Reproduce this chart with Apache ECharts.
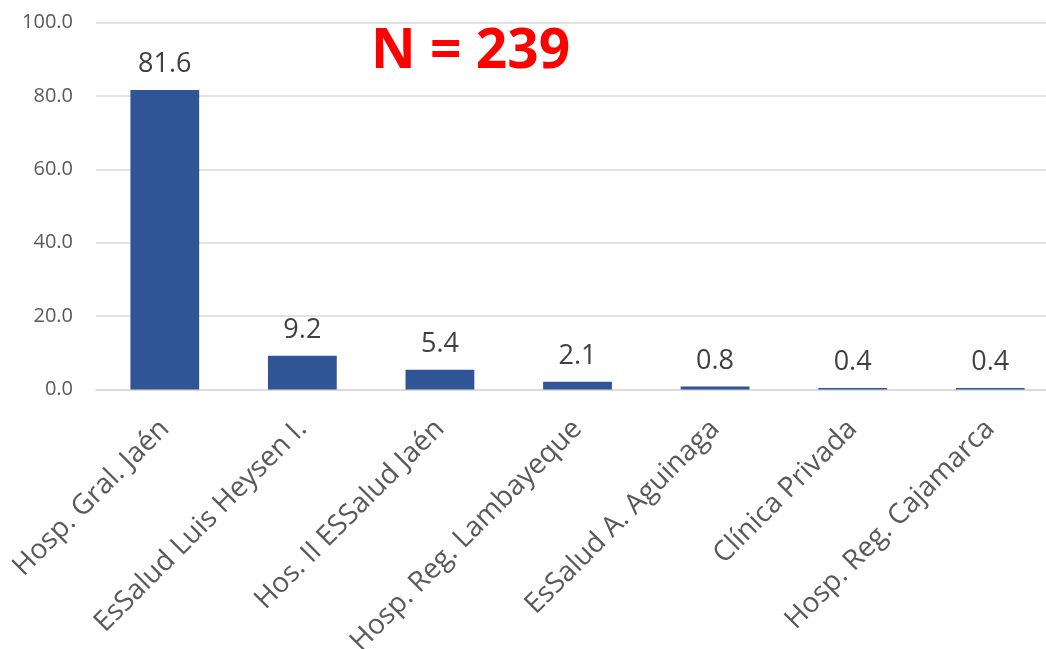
<!DOCTYPE html>
<html><head><meta charset="utf-8">
<script src="https://cdn.jsdelivr.net/npm/echarts@6/dist/echarts.min.js"></script>
<style>html,body{margin:0;padding:0;background:#fff;overflow:hidden;width:1046px;height:649px}#c{width:1060px;height:649px}</style>
</head><body><div id="c"></div>
<script>
const categories = ["Hosp. Gral. Jaén","EsSalud Luis Heysen I.","Hos. II ESSalud Jaén","Hosp. Reg. Lambayeque","EsSalud A. Aguinaga","Clínica Privada","Hosp. Reg. Cajamarca"];
const values = [81.6, 9.2, 5.4, 2.1, 0.8, 0.4, 0.4];
const yTicks = {min: 0, max: 100, interval: 20};
const annotation = "N = 239";

const chart = echarts.init(document.getElementById('c'), null, {renderer: 'canvas'});
chart.setOption({
  animation: false,
  backgroundColor: '#ffffff',
  title: {
    text: annotation, left: 366, top: 20,
    textStyle: {color: '#FF0000', fontSize: 55, fontWeight: 'bold', fontFamily: 'Open Sans'}
  },
  grid: {left: 96, top: 22.5, width: 963, bottom: 259.5, containLabel: false, outerBoundsMode: 'none'},
  xAxis: {
    type: 'category', data: categories,
    axisLine: {show: true, lineStyle: {color: '#D9D9D9', width: 1.5}},
    axisTick: {show: false},
    axisLabel: {rotate: 45, interval: 0, margin: 35, color: '#595959', fontSize: 28, fontFamily: 'Open Sans'}
  },
  yAxis: {
    type: 'value', min: yTicks.min, max: yTicks.max, interval: yTicks.interval,
    axisLine: {show: false}, axisTick: {show: false},
    splitLine: {lineStyle: {color: '#D9D9D9', width: 1.5}},
    axisLabel: {margin: 23, color: '#595959', fontSize: 20, fontFamily: 'Open Sans', formatter: v => v.toFixed(1)}
  },
  series: [{
    type: 'bar', data: values, barWidth: '50%',
    itemStyle: {color: '#2F5597'},
    label: {show: true, position: 'top', distance: 12, color: '#404040', fontSize: 27, fontFamily: 'Open Sans', formatter: p => p.value.toFixed(1)}
  }]
});
</script></body></html>
